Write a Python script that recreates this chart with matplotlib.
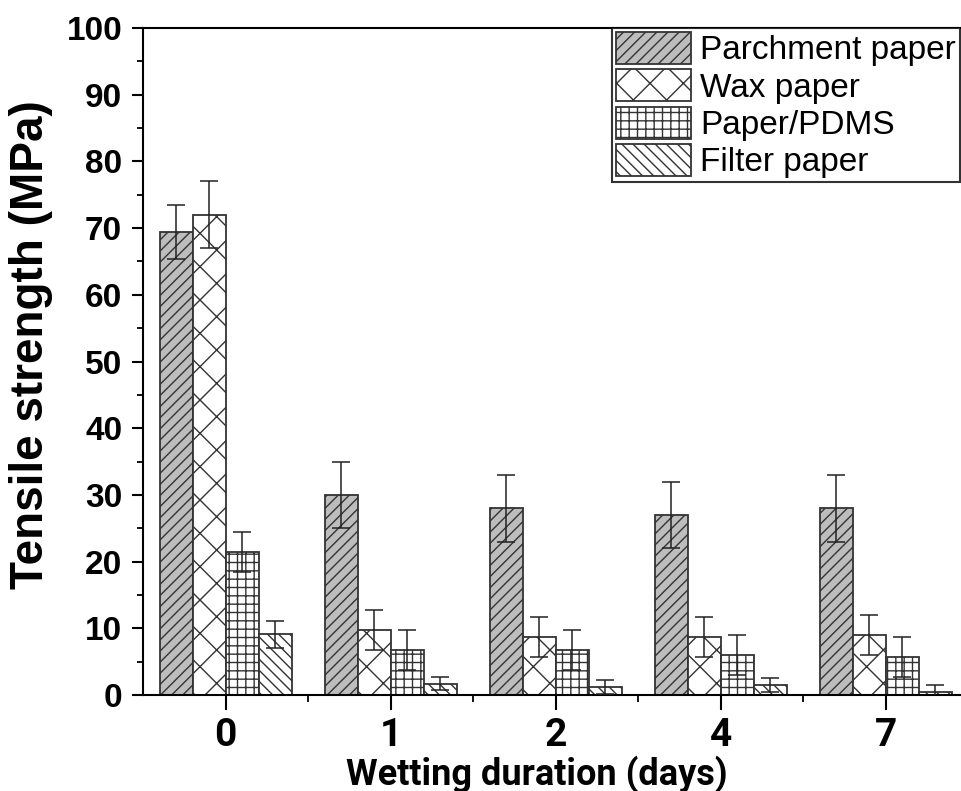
import matplotlib
matplotlib.use("Agg")
import matplotlib.pyplot as plt
import numpy as np

days = ["0", "1", "2", "4", "7"]
series = ["Parchment paper", "Wax paper", "Paper/PDMS", "Filter paper"]
parchment = [69.4, 30.0, 28.0, 27.0, 28.0]
parchment_err = [4.0, 5.0, 5.0, 5.0, 5.0]
wax = [72.0, 9.8, 8.7, 8.7, 9.0]
wax_err = [5.0, 3.0, 3.0, 3.0, 3.0]
pdms = [21.5, 6.7, 6.7, 6.0, 5.7]
pdms_err = [3.0, 3.0, 3.0, 3.0, 3.0]
filt = [9.1, 1.7, 1.2, 1.5, 0.5]
filt_err = [2.0, 1.0, 1.0, 1.0, 1.0]

values = [parchment, wax, pdms, filt]
errors = [parchment_err, wax_err, pdms_err, filt_err]
fills = ["#bdbdbd", "white", "white", "white"]
hatches = ["///", "x", "++", "\\\\\\"]

plt.rcParams["hatch.linewidth"] = 1.0
plt.rcParams["font.family"] = ["Liberation Sans", "DejaVu Sans"]
narrow = ["Roboto", "DejaVu Sans"]

fig = plt.figure(figsize=(9.61, 7.91), dpi=100)
ax = fig.add_axes([143/961, 1-695/791, (968.5-143)/961, (695-28)/791])

x = np.arange(len(days))
w = 0.2
for i, (v, e) in enumerate(zip(values, errors)):
    pos = x + (i - 1.5) * w
    ax.bar(pos, v, width=w, color=fills[i], edgecolor="#333333",
           linewidth=1.3, hatch=hatches[i], label=series[i], zorder=2)
    ax.errorbar(pos, v, yerr=e, fmt="none", ecolor="#222222", elinewidth=1.1,
                capsize=6.5, capthick=1.1, zorder=3)

ax.set_xlim(-0.5, 4.5)
ax.set_ylim(0, 100)
ax.set_yticks(np.arange(0, 101, 10))
ax.set_yticks(np.arange(5, 100, 10), minor=True)
ax.set_xticks(x)
ax.set_xticks(np.arange(0.5, 4.0, 1.0), minor=True)
ax.set_xticklabels(days, fontsize=28, fontweight="bold", family=narrow)
for lab in ax.get_yticklabels():
    lab.set_fontsize(24)
    lab.set_fontweight("bold")

ax.tick_params(axis="y", which="major", direction="out", length=8, width=1.5, pad=7)
ax.tick_params(axis="y", which="minor", direction="out", length=4.3, width=1.3)
ax.tick_params(axis="x", which="major", direction="out", length=11, width=1.5, pad=5)
ax.tick_params(axis="x", which="minor", direction="out", length=5, width=1.3)
for s in ax.spines.values():
    s.set_linewidth(1.5)

ax.set_ylabel("Tensile strength (MPa)", fontsize=33, fontweight="bold")
ax.yaxis.set_label_coords(-90/825.5, 0.525)
ax.set_xlabel("Wetting duration (days)", fontsize=26, fontweight="bold",
              family=narrow)
ax.xaxis.set_label_coords((537-143)/825.5, -60/667)

leg = ax.legend(loc="upper left", bbox_to_anchor=((612-143)/825.5, 1.0),
                borderaxespad=0, fontsize=24, frameon=True, fancybox=False,
                edgecolor="black", handlelength=2.25, handleheight=1.1,
                labelspacing=0.09, handletextpad=0.27, borderpad=0.12)
leg.get_frame().set_linewidth(1.5)

fig.savefig("out.png", dpi=100)
